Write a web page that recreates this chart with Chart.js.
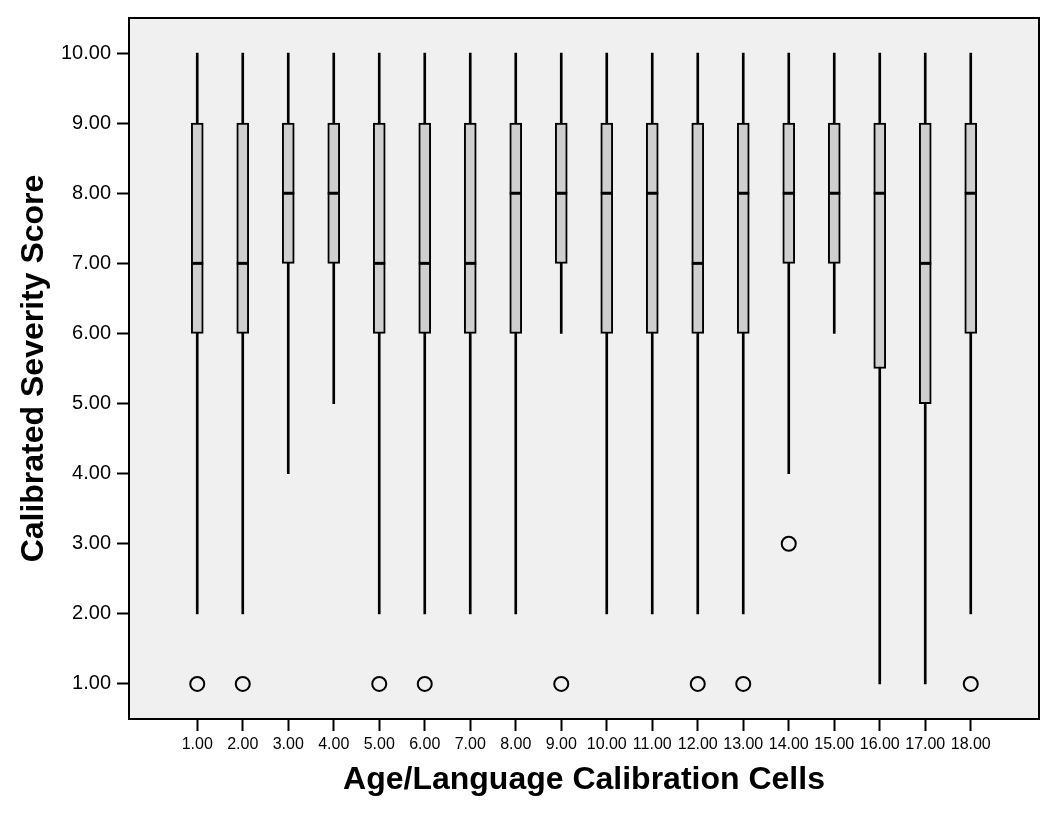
<!DOCTYPE html>
<html>
<head>
<meta charset="utf-8">
<script src="https://cdn.jsdelivr.net/npm/chart.js@4/dist/chart.umd.min.js"></script>
<style>
html,body{margin:0;padding:0;background:#fff}
#wrap{width:1050px;height:813px}
</style>
</head>
<body>
<div id="wrap"><canvas id="c" width="1050" height="813"></canvas></div>
<script>
// box plot values per calibration cell
const cells = [1,2,3,4,5,6,7,8,9,10,11,12,13,14,15,16,17,18]
const whiskLow  = [2,2,4,5,2,2,2,2,6,2,2,2,2,4,6,1,1,2]
const q1        = [6,6,7,7,6,6,6,6,7,6,6,6,6,7,7,5.5,5,6]
const median    = [7,7,8,8,7,7,7,8,8,8,8,7,8,8,8,8,7,8]
const q3        = [9,9,9,9,9,9,9,9,9,9,9,9,9,9,9,9,9,9]
const whiskHigh = [10,10,10,10,10,10,10,10,10,10,10,10,10,10,10,10,10,10]
const outlierCell  = [1,2,5,6,9,12,13,14,18]
const outlierValue = [1,1,1,1,1,1,1,3,1]
const yTicks = [1,2,3,4,5,6,7,8,9,10]

const FONT = "'Liberation Sans', Arial, sans-serif"

const frame = {
  id:'frame',
  beforeDraw(chart){
    const {ctx,chartArea:a} = chart
    ctx.save()
    ctx.fillStyle = '#f0f0f0'
    ctx.fillRect(a.left,a.top,a.right-a.left,a.bottom-a.top)
    ctx.restore()
  },
  afterDraw(chart){
    const {ctx,chartArea:a} = chart
    ctx.save()
    ctx.strokeStyle = '#000'
    ctx.lineWidth = 2
    ctx.strokeRect(a.left,a.top,a.right-a.left,a.bottom-a.top)
    ctx.restore()
  }
}

new Chart(document.getElementById('c'),{
  type:'bar',
  data:{
    datasets:[
      {
        type:'line',label:'outliers',order:0,showLine:false,
        data:outlierCell.map((c,i)=>({x:c,y:outlierValue[i]})),
        pointStyle:'circle',pointRadius:7,pointBorderWidth:2,
        pointBorderColor:'#000',pointBackgroundColor:'rgba(0,0,0,0)'
      },
      {
        type:'line',label:'median',order:1,showLine:false,
        data:cells.map((c,i)=>({x:c,y:median[i]})),
        pointStyle:'line',pointRadius:6,pointBorderWidth:3,
        pointBorderColor:'#000',pointBackgroundColor:'#000'
      },
      {
        label:'box',order:2,grouped:false,
        data:cells.map((c,i)=>({x:c,y:[q1[i],q3[i]]})),
        barThickness:12,backgroundColor:'#cfcfcf',borderColor:'#000',
        borderWidth:2,borderSkipped:false
      },
      {
        label:'whisker',order:3,grouped:false,
        data:cells.map((c,i)=>({x:c,y:[whiskLow[i],whiskHigh[i]]})),
        barThickness:2,backgroundColor:'#000',borderWidth:0
      }
    ]
  },
  options:{
    responsive:false,
    animation:false,
    layout:{padding:{top:17,right:11,left:0,bottom:0}},
    plugins:{legend:{display:false},tooltip:{enabled:false}},
    scales:{
      x:{
        type:'linear',min:-0.5,max:19.5,offset:false,
        afterBuildTicks(s){ s.ticks = cells.map(v=>({value:v})) },
        afterFit(s){ s.height = 94 },
        grid:{offset:false,drawOnChartArea:false,tickLength:12,tickWidth:2,tickColor:'#000'},
        border:{color:'#000',width:2},
        ticks:{padding:4,color:'#000',maxRotation:0,autoSkip:false,
          font:{family:FONT,size:16},callback:v=>Number(v).toFixed(2)},
        title:{display:true,text:'Age/Language Calibration Cells',color:'#000',
          font:{family:FONT,size:32,weight:'bold'},padding:{top:0,bottom:14}}
      },
      y:{
        min:0.5,max:10.5,
        afterBuildTicks(s){ s.ticks = yTicks.map(v=>({value:v})) },
        afterFit(s){ s.width = 129 },
        grid:{drawOnChartArea:false,tickLength:12,tickWidth:2,tickColor:'#000'},
        border:{color:'#000',width:2},
        ticks:{padding:6,color:'#000',
          font:{family:FONT,size:20},callback:v=>Number(v).toFixed(2)},
        title:{display:true,text:'Calibrated Severity Score',color:'#000',
          font:{family:FONT,size:32,weight:'bold'},padding:{top:15,bottom:0}}
      }
    }
  },
  plugins:[frame]
})
</script>
</body>
</html>
